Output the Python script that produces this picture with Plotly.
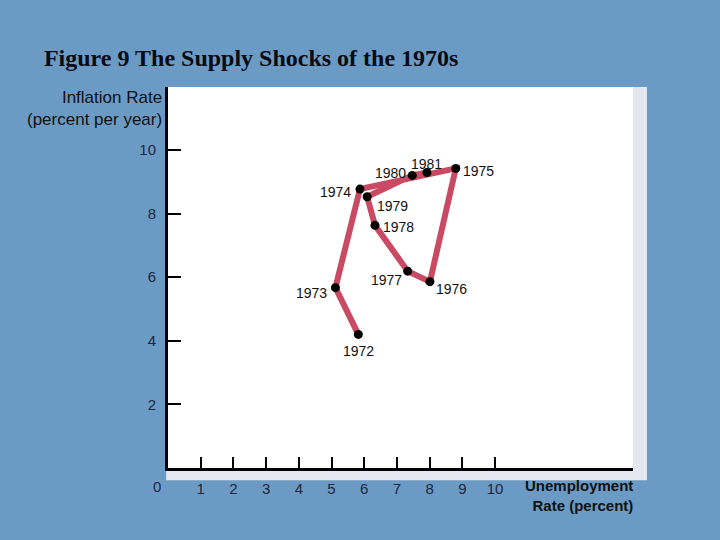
import plotly.graph_objects as go

years = ["1972", "1973", "1974", "1975", "1976", "1977", "1978", "1979", "1980", "1981"]
unemployment = [5.82, 5.12, 5.87, 8.80, 8.01, 7.33, 6.33, 6.09, 7.47, 7.92]
inflation = [4.20, 5.67, 8.77, 9.42, 5.86, 6.19, 7.63, 8.53, 9.20, 9.29]
x_ticks = [1, 2, 3, 4, 5, 6, 7, 8, 9, 10]
y_ticks = [2, 4, 6, 8, 10]

# label offsets (pixels) relative to each point
label_dx = [0, -24, -24, 23, 22, -21, 24, 25, -22, 0]
label_dy = [-17, -5, -3, -3, -7, -9, -2, -9, 2, 9]

BG = "#6b9bc4"
LINE = "#c94a62"
TICKCOL = "#1c2640"

fig = go.Figure()
fig.add_trace(go.Scatter(
    x=unemployment, y=inflation, mode="lines",
    line=dict(color=LINE, width=6), hoverinfo="skip", showlegend=False))
fig.add_trace(go.Scatter(
    x=unemployment, y=inflation, mode="markers",
    marker=dict(color="black", size=9), showlegend=False))

for yr, xv, yv, dx, dy in zip(years, unemployment, inflation, label_dx, label_dy):
    fig.add_annotation(x=xv, y=yv, text=yr, showarrow=False, xshift=dx, yshift=dy,
                       font=dict(family="Liberation Sans, Arial", size=14, color="#111111"))

shapes = [
    dict(type="rect", xref="x domain", yref="y domain", x0=-0.004, x1=1.03, y0=-0.032, y1=1.0,
         fillcolor="#e4e7f0", line=dict(width=0), layer="below"),
    dict(type="rect", xref="x domain", yref="y domain", x0=0, x1=1.0, y0=0, y1=1.0,
         fillcolor="white", line=dict(width=0), layer="below"),
]

annotations_extra = [
    dict(xref="paper", yref="paper", x=-0.008, y=1.0, xanchor="right", yanchor="bottom",
         text="Inflation Rate<br>(percent per year)", showarrow=False, align="right",
         yshift=-44, font=dict(family="Liberation Sans, Arial", size=17, color="#111111")),
    dict(xref="paper", yref="paper", x=1.0, y=0.0, xanchor="right", yanchor="top",
         text="<b>Unemployment</b><br><b>Rate (percent)</b>", showarrow=False, align="right",
         xshift=2, yshift=-7, font=dict(family="Liberation Sans, Arial", size=15, color="#111111")),
    dict(xref="paper", yref="paper", x=0.0, y=0.0, xanchor="right", yanchor="top",
         text="0", showarrow=False, xshift=-5, yshift=-8,
         font=dict(family="Liberation Sans, Arial", size=15, color=TICKCOL)),
]
for a in annotations_extra:
    fig.add_annotation(**a)

fig.update_layout(
    width=720, height=540,
    paper_bgcolor=BG, plot_bgcolor="white",
    margin=dict(l=168, r=87, t=87, b=72),
    shapes=shapes,
    title=dict(text="<b>Figure 9 The Supply Shocks of the 1970s</b>", x=0.061, xanchor="left",
               y=0.894, yanchor="middle",
               font=dict(family="Liberation Serif, Times New Roman", size=24, color="#0a0a14")),
    showlegend=False,
)
fig.update_xaxes(range=[0, 14.22], showgrid=False, zeroline=False, showline=True,
                 linecolor="black", linewidth=3, ticks="inside", ticklen=11, tickwidth=2,
                 tickcolor="black", tickvals=x_ticks, ticktext=[str(v) for v in x_ticks],
                 tickfont=dict(family="Liberation Sans, Arial", size=15, color=TICKCOL),
                 ticklabelstandoff=5)
fig.update_yaxes(range=[0, 11.98], showgrid=False, zeroline=False, showline=True,
                 linecolor="black", linewidth=3, ticks="inside", ticklen=13, tickwidth=2,
                 tickcolor="black", tickvals=y_ticks, ticktext=[str(v) for v in y_ticks],
                 tickfont=dict(family="Liberation Sans, Arial", size=15, color=TICKCOL),
                 ticklabelstandoff=6)

fig.write_html("out.html", config={"displayModeBar": False},
               post_script="document.body.style.margin='0px';")
